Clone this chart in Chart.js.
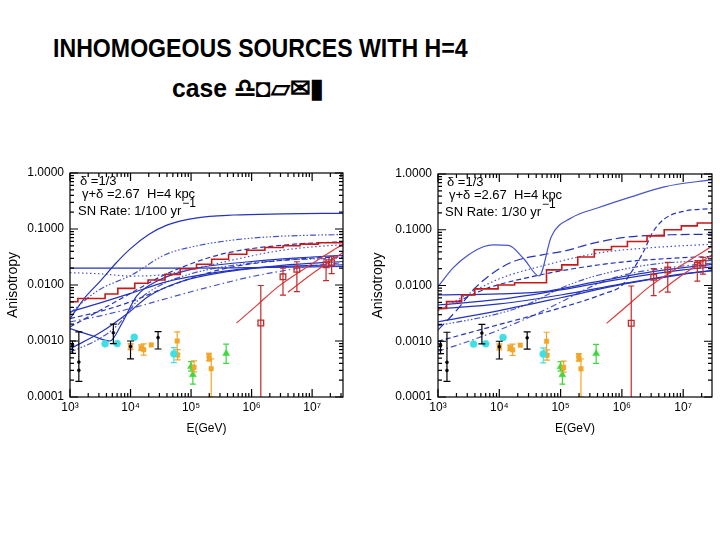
<!DOCTYPE html>
<html><head><meta charset="utf-8">
<script src="https://cdn.jsdelivr.net/npm/chart.js@4"></script>
<style>
html,body{margin:0;padding:0;background:#fff;width:720px;height:540px;overflow:hidden;}
.tt{position:absolute;white-space:nowrap;font-family:"Liberation Sans",Arial,sans-serif;font-weight:bold;color:#000;font-size:26px;line-height:30px;transform-origin:0 0;}
.cv{position:absolute;}
</style></head><body>
<div class="tt" id="t1" style="left:53px;top:33px;transform:scaleX(0.89);">INHOMOGEOUS SOURCES WITH H=4</div>
<div class="tt" id="t2" style="left:172px;top:73px;transform:scaleX(0.95);">case &#x264E;&#xFE0E;◘▱✉▮</div>
<div class="cv" style="left:0;top:150px;width:360px;height:290px"><canvas id="c1" width="360" height="290"></canvas></div>
<div class="cv" style="left:365px;top:150px;width:355px;height:290px"><canvas id="c2" width="355" height="290"></canvas></div>
<script>
// ---------- tick labels ----------
const yTickVals = [1e-4, 1e-3, 1e-2, 1e-1, 1];
const yTickLabels = ['0.0001', '0.0010', '0.0100', '0.1000', '1.0000'];
const xTickVals = [1e3, 1e4, 1e5, 1e6, 1e7];
const xTickLabels = ['10³', '10⁴', '10⁵', '10⁶', '10⁷'];

// ---------- experimental data (E in GeV, anisotropy, error low, error high) ----------
const blackE  = [1.1e3, 1.4e3, 1.4e3, 5.2e3, 1.0e4, 2.85e4];
const blackA  = [8.5e-4, 4.2e-4, 3.0e-4, 1.4e-3, 8.0e-4, 1.15e-3];
const blackLo = [6.0e-4, 1.9e-4, null, 9.0e-4, 4.8e-4, 7.2e-4];
const blackHi = [1.0e-3, 1.45e-3, null, 2.0e-3, 1.0e-3, 1.47e-3];
const cyanE  = [3.8e3, 6.0e3, 1.15e4, 5.2e4];
const cyanA  = [8.9e-4, 9.0e-4, 1.17e-3, 5.9e-4];
const cyanLo = [null, null, null, 4.1e-4];
const cyanHi = [null, null, null, 7.6e-4];
const orangeE  = [1.0e4, 1.5e4, 1.65e4, 2.2e4, 5.9e4, 6.0e4, 1.12e5, 1.98e5, 2.0e5, 2.15e5];
const orangeA  = [8.0e-4, 7.5e-4, 7.0e-4, 8.5e-4, 1.0e-3, 5.6e-4, 3.4e-4, 5.5e-4, 4.8e-4, 3.2e-4];
const orangeLo = [7.0e-4, 6.8e-4, 5.6e-4, null, 6.0e-4, 4.6e-4, 2.8e-4, 4.4e-4, null, 1.0e-4];
const orangeHi = [9.0e-4, 8.5e-4, 8.9e-4, null, 1.45e-3, 7.0e-4, 4.4e-4, 6.0e-4, null, 4.8e-4];
const greenE  = [1.0e5, 1.07e5, 3.8e5];
const greenA  = [3.5e-4, 2.5e-4, 6.0e-4];
const greenLo = [2.9e-4, 1.7e-4, 4.0e-4];
const greenHi = [4.3e-4, 3.1e-4, 8.8e-4];
const redE  = [1.42e6, 3.3e6, 5.6e6, 1.7e7, 2.1e7];
const redA  = [2.1e-3, 1.4e-2, 1.9e-2, 2.3e-2, 2.5e-2];
const redLo = [1e-5, 6.6e-3, 7.6e-3, 1.2e-2, 1.6e-2];
const redHi = [9.8e-3, 2.0e-2, 2.6e-2, 2.8e-2, 3.2e-2];

// red fit lines (log10 E, log10 A)
const redLineAE = [5.75, 6.1, 6.45, 7.0, 7.51];
const redLineAA = [-2.68, -2.35, -2.02, -1.62, -1.27];
const redLineBE = [6.6, 7.0, 7.51];
const redLineBA = [-2.13, -1.8, -1.42];

// ---------- left panel (SN rate 1/100 yr) : log10 E, log10 A ----------
const histLE = [3.0, 3.13, 3.58, 3.79, 4.07, 4.29, 4.57, 4.82, 5.09, 5.34, 5.62, 5.92, 6.22, 6.52, 6.80, 7.10, 7.51];
const histLA = [-2.30, -2.24, -2.16, -2.06, -1.97, -1.91, -1.81, -1.71, -1.63, -1.54, -1.45, -1.38, -1.33, -1.30, -1.27, -1.245, -1.245];
const L1E = [3.0, 3.25, 3.5, 3.75, 4.0, 4.3, 4.6, 5.1, 5.7, 6.5, 7.51];
const L1A = [-2.6, -2.22, -1.93, -1.62, -1.35, -1.1, -0.93, -0.8, -0.75, -0.73, -0.72];
const L2E = [3.0, 4.0, 5.0, 6.0, 7.51];
const L2A = [-1.70, -1.70, -1.70, -1.69, -1.67];
const L3E = [3.0, 3.5, 4.0, 4.5, 5.0, 5.5, 6.0, 6.5, 7.0, 7.51];
const L3A = [-1.78, -1.8, -1.84, -1.82, -1.72, -1.6, -1.48, -1.38, -1.32, -1.28];
const L4E = [3.0, 3.46, 4.02, 4.57, 5.1, 5.67, 6.3, 7.0, 7.51];
const L4A = [-2.5, -2.1, -1.82, -1.46, -1.3, -1.2, -1.14, -1.11, -1.1];
const L5E = [3.0, 3.5, 4.0, 4.5, 5.0, 5.5, 6.0, 6.5, 7.0, 7.51];
const L5A = [-2.75, -2.45, -2.15, -1.85, -1.62, -1.45, -1.35, -1.29, -1.25, -1.23];
const L6E = [3.0, 3.35, 3.66, 3.85, 4.1, 4.4, 5.0, 6.0, 7.0, 7.51];
const L6A = [-2.78, -2.9, -3.0, -2.7, -2.2, -1.95, -1.72, -1.58, -1.5, -1.47];
const L7E = [3.0, 3.5, 3.96, 4.3, 4.8, 5.5, 6.5, 7.51];
const L7A = [-3.14, -2.85, -2.5, -2.2, -1.95, -1.78, -1.65, -1.58];
const L8E = [3.0, 3.5, 4.0, 4.57, 5.0, 5.5, 6.0, 7.0, 7.51];
const L8A = [-2.48, -2.32, -2.15, -1.95, -1.85, -1.76, -1.7, -1.65, -1.64];
const L9E = [3.0, 3.5, 4.0, 4.5, 5.0, 5.5, 6.0, 6.5, 7.0, 7.51];
const L9A = [-2.66, -2.55, -2.42, -2.27, -2.12, -1.98, -1.85, -1.75, -1.66, -1.6];
const L10E = [3.0, 3.5, 4.0, 4.5, 5.0, 5.5, 6.0, 7.0, 7.51];
const L10A = [-2.6, -2.47, -2.3, -2.08, -1.88, -1.72, -1.62, -1.52, -1.5];
const L11E = [3.0, 3.5, 3.8, 4.1, 4.5, 5.0, 5.5, 6.5, 7.51];
const L11A = [-3.2, -2.95, -2.7, -2.3, -2.0, -1.8, -1.68, -1.56, -1.52];

// ---------- right panel (SN rate 1/30 yr) ----------
const rhistLE = [3.0, 3.14, 3.385, 3.6, 3.98, 4.25, 4.77, 5.02, 5.28, 5.55, 5.83, 6.09, 6.41, 6.69, 6.97, 7.23, 7.47];
const rhistLA = [-2.41, -2.29, -2.17, -2.06, -1.99, -1.95, -1.72, -1.63, -1.49, -1.36, -1.30, -1.21, -1.11, -1.00, -0.93, -0.88, -0.88];
const R1E = [3.0, 3.25, 3.5, 3.75, 3.9, 4.15, 4.4, 4.65, 4.85, 5.17, 5.6, 6.15, 6.69, 7.47];
const R1A = [-2.02, -1.68, -1.45, -1.3, -1.27, -1.28, -1.52, -1.83, -1.12, -0.79, -0.61, -0.41, -0.23, -0.1];
const R2E = [3.0, 3.3, 3.6, 4.0, 4.25, 4.7, 5.07, 5.5, 6.1, 6.8, 7.47];
const R2A = [-2.8, -2.45, -2.05, -1.7, -1.56, -1.45, -1.38, -1.25, -1.13, -1.09, -1.08];
const R3E = [3.0, 4.0, 5.0, 5.7, 6.0, 6.1, 6.35, 6.5, 6.7, 7.0, 7.47];
const R3A = [-3.0, -2.7, -2.4, -2.15, -2.0, -1.85, -1.4, -1.05, -0.8, -0.67, -0.62];
const R4E = [3.0, 3.5, 4.0, 4.8, 5.6, 6.5, 7.47];
const R4A = [-2.45, -2.15, -1.88, -1.62, -1.42, -1.32, -1.26];
const R5E = [3.3, 3.8, 4.5, 5.2, 6.0, 7.0, 7.47];
const R5A = [-2.3, -2.05, -1.85, -1.7, -1.58, -1.5, -1.48];
const R6E = [3.0, 4.0, 4.8, 5.5, 6.5, 7.47];
const R6A = [-2.17, -2.15, -2.1, -1.95, -1.75, -1.62];
const R7E = [3.0, 4.0, 5.0, 6.0, 7.0, 7.47];
const R7A = [-2.35, -2.25, -2.08, -1.88, -1.72, -1.67];
const R8E = [3.0, 4.0, 5.0, 6.0, 7.0, 7.47];
const R8A = [-2.42, -2.33, -2.17, -1.97, -1.79, -1.74];
const R9E = [3.0, 4.0, 5.0, 6.0, 7.0, 7.47];
const R9A = [-2.65, -2.45, -2.22, -1.98, -1.8, -1.73];
const R10E = [3.0, 3.5, 4.26, 5.0, 5.5, 6.0, 7.0, 7.47];
const R10A = [-3.18, -3.0, -2.68, -2.3, -2.02, -1.82, -1.65, -1.6];
const R11E = [3.0, 4.0, 4.5, 5.0, 5.5, 6.5, 7.47];
const R11A = [-2.72, -2.5, -2.32, -2.05, -1.85, -1.62, -1.55];

// ---------- styling ----------
const BLUE = '#2433bd', BLUE2 = '#4654cc';
const DASH = {solid: [], dash: [5, 3], longdash: [9, 4], dot: [1.5, 2.5], dashdot: [6, 3, 1.5, 3], dash3: [6, 2, 1.5, 2, 1.5, 2, 1.5, 2]};

function logPts(le, la) { return le.map((e, i) => ({x: Math.pow(10, e), y: Math.pow(10, la[i])})); }
function valPts(E, A) { return E.map((e, i) => ({x: e, y: A[i]})); }
function curve(le, la, dash, color) {
  return {data: logPts(le, la), borderColor: color || BLUE, borderWidth: 1.2, borderDash: DASH[dash],
          pointRadius: 0, cubicInterpolationMode: 'monotone', fill: false, order: 3};
}
function hist(le, la) {
  return {data: logPts(le, la), borderColor: '#c81818', borderWidth: 1.6, stepped: 'before',
          pointRadius: 0, fill: false, order: 2};
}
function redLine(le, la) {
  return {data: logPts(le, la), borderColor: '#e23a3a', borderWidth: 1.2, pointRadius: 0, fill: false,
          cubicInterpolationMode: 'monotone', order: 1};
}
function marks(E, A, lo, hi, style, color, r, cap, filled) {
  return {data: valPts(E, A), showLine: false, pointStyle: style, pointRadius: r,
          backgroundColor: filled ? color : 'rgba(0,0,0,0)', borderColor: color, borderWidth: filled ? 0.5 : 1.3,
          errLo: lo, errHi: hi, errColor: color, errCap: cap, order: 0};
}
function dataSets() {
  return [
    marks(redE, redA, redLo, redHi, 'rect', '#c42a2a', 4, 3, false),
    marks(blackE, blackA, blackLo, blackHi, 'circle', '#000000', 1.5, 3.5, true),
    marks(cyanE, cyanA, cyanLo, cyanHi, 'circle', '#3ee0e6', 3.5, 3, true),
    marks(orangeE, orangeA, orangeLo, orangeHi, 'rect', '#f2a628', 3.2, 3, true),
    marks(greenE, greenA, greenLo, greenHi, 'triangle', '#3ed83e', 4, 3, true),
    redLine(redLineAE, redLineAA),
    redLine(redLineBE, redLineBA)
  ];
}

// ---------- plugins ----------
const errPlugin = {
  id: 'errbars',
  beforeDatasetDraw(chart, args) {
    const ds = chart.data.datasets[args.index];
    if (!ds.errLo) return;
    const {ctx, chartArea: a, scales: {x, y}} = chart;
    ctx.save();
    ctx.beginPath(); ctx.rect(a.left, a.top, a.width, a.height); ctx.clip();
    ctx.strokeStyle = ds.errColor; ctx.lineWidth = 1.2;
    ds.data.forEach((p, i) => {
      if (ds.errLo[i] == null) return;
      const px = x.getPixelForValue(p.x);
      const y1 = y.getPixelForValue(ds.errLo[i]), y2 = y.getPixelForValue(ds.errHi[i]);
      ctx.beginPath();
      ctx.moveTo(px, y1); ctx.lineTo(px, y2);
      ctx.moveTo(px - ds.errCap, y1); ctx.lineTo(px + ds.errCap, y1);
      ctx.moveTo(px - ds.errCap, y2); ctx.lineTo(px + ds.errCap, y2);
      ctx.stroke();
    });
    ctx.restore();
  }
};
const framePlugin = {
  id: 'frame',
  afterDatasetsDraw(chart) {
    const {ctx, chartArea: a, scales: {x, y}} = chart;
    ctx.save();
    ctx.strokeStyle = '#000'; ctx.lineWidth = 1.2;
    ctx.strokeRect(a.left, a.top, a.width, a.height);
    ctx.beginPath();
    for (let d = 3; d <= 7; d++) for (let m = 1; m <= 9; m++) {
      const v = m * Math.pow(10, d);
      if (v < x.min || v > x.max) continue;
      const px = x.getPixelForValue(v), len = m === 1 ? 8 : 4;
      ctx.moveTo(px, a.bottom); ctx.lineTo(px, a.bottom - len);
      ctx.moveTo(px, a.top); ctx.lineTo(px, a.top + len);
    }
    for (let d = -4; d <= 0; d++) for (let m = 1; m <= 9; m++) {
      const v = m * Math.pow(10, d);
      if (v < y.min * 0.999 || v > y.max * 1.001) continue;
      const py = y.getPixelForValue(v), len = m === 1 ? 8 : 4;
      ctx.moveTo(a.left, py); ctx.lineTo(a.left + len, py);
      ctx.moveTo(a.right, py); ctx.lineTo(a.right - len, py);
    }
    ctx.stroke();
    // annotations
    const an = chart.options.plugins.annot;
    ctx.fillStyle = '#000'; ctx.textBaseline = 'alphabetic'; ctx.textAlign = 'left';
    an.lines.forEach(l => {
      ctx.font = '13px "Liberation Sans", Arial, sans-serif';
      const tx = a.left + l.dx, ty = a.top + l.dy;
      ctx.fillText(l.t, tx, ty);
      if (l.sup) {
        const w = ctx.measureText(l.t).width;
        ctx.font = '12px "Liberation Sans", Arial, sans-serif';
        ctx.fillText(l.sup, tx + w + 1, ty - 8);
      }
    });
    ctx.restore();
  }
};

function makeChart(id, xMaxLog, pad, yW, curves, annLines) {
  const ds = dataSets().concat(curves);
  return new Chart(document.getElementById(id), {
    type: 'line',
    data: {datasets: ds},
    plugins: [errPlugin, framePlugin],
    options: {
      responsive: false, animation: false, events: [],
      layout: {padding: pad},
      plugins: {legend: {display: false}, tooltip: {enabled: false}, annot: {lines: annLines}},
      scales: {
        x: {
          type: 'logarithmic', min: 1e3, max: Math.pow(10, xMaxLog),
          grid: {display: false, drawTicks: false}, border: {display: false},
          afterFit: s => { s.height = 43; },
          afterBuildTicks: s => { s.ticks = xTickVals.map(v => ({value: v})); },
          ticks: {autoSkip: false, maxRotation: 0, padding: 3, color: '#000',
                  font: {family: '"Liberation Sans", Arial, sans-serif', size: 12},
                  callback: v => { const i = xTickVals.indexOf(v); return i >= 0 ? xTickLabels[i] : ''; }},
          title: {display: true, text: 'E(GeV)', color: '#000', padding: {top: 0, bottom: 4},
                  font: {family: '"Liberation Sans", Arial, sans-serif', size: 12}}
        },
        y: {
          type: 'logarithmic', min: 1e-4, max: 1,
          grid: {display: false, drawTicks: false}, border: {display: false},
          afterFit: s => { s.width = yW; },
          afterBuildTicks: s => { s.ticks = yTickVals.map(v => ({value: v})); },
          ticks: {autoSkip: false, padding: 6, color: '#000',
                  font: {family: '"Liberation Sans", Arial, sans-serif', size: 12},
                  callback: v => { const i = yTickVals.indexOf(v); return i >= 0 ? yTickLabels[i] : ''; }},
          title: {display: true, text: 'Anisotropy', color: '#000', padding: {top: 5, bottom: 0},
                  font: {family: '"Liberation Sans", Arial, sans-serif', size: 14}}
        }
      }
    }
  });
}

const leftCurves = [
  hist(histLE, histLA),
  curve(L1E, L1A, 'solid'), curve(L2E, L2A, 'solid'), curve(L3E, L3A, 'dot', BLUE2),
  curve(L4E, L4A, 'dash3', BLUE2), curve(L5E, L5A, 'dash'), curve(L6E, L6A, 'solid'),
  curve(L7E, L7A, 'solid'), curve(L8E, L8A, 'solid'), curve(L9E, L9A, 'dashdot', BLUE2),
  curve(L10E, L10A, 'dash'), curve(L11E, L11A, 'dash3', BLUE2)
];
const rightCurves = [
  hist(rhistLE, rhistLA),
  curve(R1E, R1A, 'solid', BLUE2), curve(R2E, R2A, 'longdash'), curve(R3E, R3A, 'dash'),
  curve(R4E, R4A, 'dot', BLUE2), curve(R5E, R5A, 'dash'), curve(R6E, R6A, 'solid'),
  curve(R7E, R7A, 'solid'), curve(R8E, R8A, 'solid'), curve(R9E, R9A, 'solid'),
  curve(R10E, R10A, 'dashdot', BLUE2), curve(R11E, R11A, 'dash3', BLUE2)
];

makeChart('c1', 7.51, {left: 0, right: 17, top: 23, bottom: 0}, 70, leftCurves, [
  {t: 'δ =1/3', dx: 10, dy: 12}, {t: 'γ+δ =2.67  H=4 kpc', dx: 12, dy: 25},
  {t: 'SN Rate: 1/100 yr', dx: 8, dy: 42, sup: '−1'}]);
makeChart('c2', 7.47, {left: 0, right: 8, top: 24, bottom: 0}, 73, rightCurves, [
  {t: 'δ =1/3', dx: 9, dy: 12}, {t: 'γ+δ =2.67  H=4 kpc', dx: 11, dy: 25},
  {t: 'SN Rate: 1/30 yr', dx: 7, dy: 42, sup: '−1'}]);
</script>
</body></html>
